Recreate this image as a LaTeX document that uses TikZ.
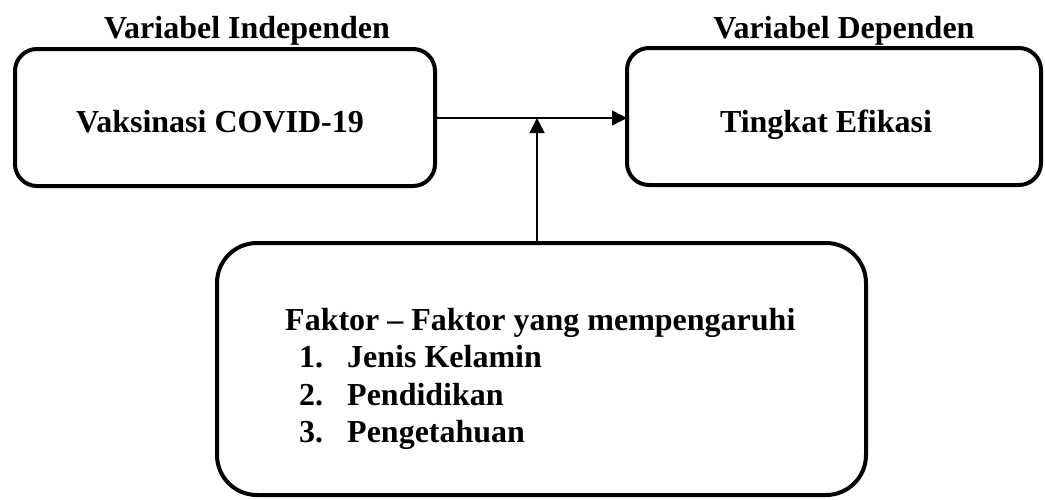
\documentclass[tikz,border=0pt]{standalone}
\usepackage{fontspec}
\setmainfont{Liberation Serif}
\usetikzlibrary{arrows.meta}
\tikzset{
  box/.style={draw=black, line width=4pt, inner sep=0pt, outer sep=0pt},
  txt/.style={inner sep=0pt, anchor=base, font=\bfseries\fontsize{32}{38}\selectfont},
  ltxt/.style={txt, anchor=base west},
  arr/.style={draw=black, line width=1.5pt, -{Triangle[length=15pt,width=15pt]}}
}
\begin{document}
\begin{tikzpicture}[x=1pt,y=1pt]
\useasboundingbox (0,0) rectangle (1045,-499);
% boxes
\node[box, rounded corners=22pt, minimum width=420pt, minimum height=137pt] (A) at (225,-117.5) {};
\node[box, rounded corners=22pt, minimum width=414pt, minimum height=137pt] (B) at (834,-116.5) {};
\node[box, rounded corners=40pt, minimum width=649pt, minimum height=252pt] (C) at (541.5,-369) {};
% titles
\node[txt] (tA) at (247,-38) {Variabel Independen};
\node[txt] (tB) at (844,-38) {Variabel Dependen};
% box texts
\node[txt] (lA) at (220,-132) {Vaksinasi COVID-19};
\node[txt] (lB) at (826,-132) {Tingkat Efikasi};
\node[ltxt] (f0) at (285,-330) {Faktor – Faktor yang mempengaruhi};
\node[ltxt] (n1) at (299,-367) {1.};
\node[ltxt] (n2) at (299,-405) {2.};
\node[ltxt] (n3) at (299,-442) {3.};
\node[ltxt] (i1) at (347,-367) {Jenis Kelamin};
\node[ltxt] (i2) at (347,-405) {Pendidikan};
\node[ltxt] (i3) at (347,-442) {Pengetahuan};
% connectors
\coordinate (ha) at (435,-118);
\coordinate (hb) at (627,-118);
\coordinate (vb) at (537,-118);
\coordinate (va) at (537,-243);
\draw[arr] (ha) -- (hb);
\draw[arr] (va) -- (vb);
\end{tikzpicture}
\end{document}
